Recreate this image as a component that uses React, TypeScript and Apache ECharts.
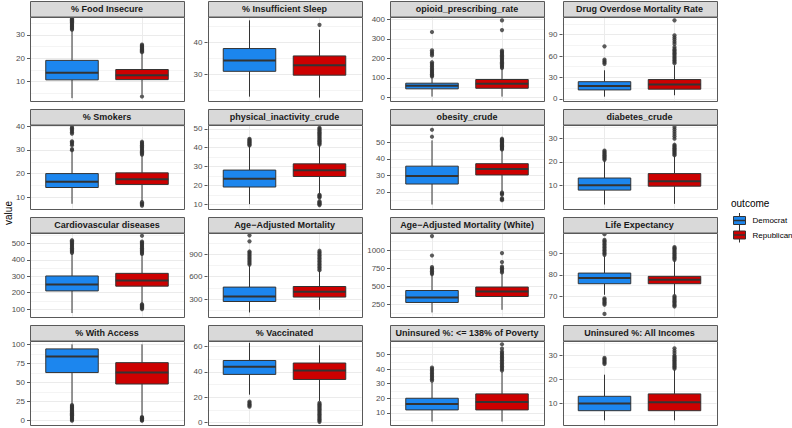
import React, { useEffect, useRef } from 'react';
import * as echarts from 'echarts';

const groups = ['Democrat', 'Republican'];
const groupColors = ['#1C86EE', '#CD0000'];

const panelTitles = [
  '% Food Insecure', '% Insufficient Sleep', 'opioid_prescribing_rate', 'Drug Overdose Mortality Rate',
  '% Smokers', 'physical_inactivity_crude', 'obesity_crude', 'diabetes_crude',
  'Cardiovascular diseases', 'Age\u2212Adjusted Mortality', 'Age\u2212Adjusted Mortality (White)', 'Life Expectancy',
  '% With Access', '% Vaccinated', 'Uninsured %: <= 138% of Poverty', 'Uninsured %: All Incomes',
];

const yLimits = [
  [2, 37.8], [21.9, 48.1], [-17, 415], [-2.35, 115.4],
  [5.2, 40.8], [7.7, 52.3], [10, 60.8], [0, 36.1],
  [55, 567], [68, 1188], [83, 1250], [60.8, 99.5],
  [-5, 105], [-1.6, 64.8], [2, 59.6], [1.25, 36.25],
];

const yTicks = [
  [10, 20, 30], [30, 40], [0, 100, 200, 300, 400], [0, 30, 60, 90],
  [10, 20, 30, 40], [10, 20, 30, 40, 50], [20, 30, 40, 50], [10, 20, 30],
  [100, 200, 300, 400, 500], [300, 600, 900], [250, 500, 750, 1000], [70, 80, 90],
  [0, 25, 50, 75, 100], [0, 20, 40, 60], [10, 20, 30, 40, 50], [10, 20, 30],
];

const yMinorTicks = [
  [5, 15, 25, 35], [25, 35, 45], [50, 150, 250, 350], [15, 45, 75, 105],
  [15, 25, 35], [15, 25, 35, 45], [15, 25, 35, 45, 55], [5, 15, 25, 35],
  [150, 250, 350, 450, 550], [150, 450, 750, 1050], [125, 375, 625, 875, 1125], [65, 75, 85, 95],
  [12.5, 37.5, 62.5, 87.5], [10, 30, 50], [5, 15, 25, 35, 45, 55], [5, 15, 25, 35],
];

// [lower whisker, Q1, median, Q3, upper whisker]
const demStats = [
  [3, 10.8, 13.8, 19.1, 31.8], [23.1, 31, 34.4, 38.1, 46.9], [3, 43, 59, 72, 104], [3, 12.5, 18, 24, 40],
  [7.2, 14.1, 16.5, 20, 29.5], [10, 19.1, 23.5, 28.1, 40.8], [12.4, 24.8, 29.6, 35.6, 51.2], [1.7, 7.9, 10, 13.1, 20.5],
  [76, 211, 250, 302, 438], [122, 268, 335, 460, 748], [139, 278, 347, 444, 662], [70.8, 75.9, 78.5, 80.8, 88.6],
  [22, 63, 84, 94, 100], [22, 38, 44, 49, 63], [4, 12, 16, 20, 31], [3, 7, 10, 13, 22],
];

const repStats = [
  [4.5, 10.9, 12.8, 15.2, 22.2], [22.8, 29.8, 32.9, 35.8, 44], [3, 46, 69, 91, 146], [5, 13.5, 20, 27, 47],
  [8.4, 15.4, 17.6, 20.3, 27.8], [15.5, 24.7, 28, 31.4, 41.2], [20.4, 30.3, 33.9, 37.1, 45.3], [2, 9.6, 11.7, 15, 22.5],
  [136, 240, 275, 318, 432], [157, 327, 397, 468, 678], [176, 361, 431, 492, 686], [70.8, 75.9, 77.7, 79.3, 86.5],
  [7, 48, 63, 76, 100], [17, 34, 41, 47, 61], [4, 12, 17.5, 23, 38], [3, 7, 10.5, 14, 24],
];

const demOutliers = [
  [32.2, 32.6, 33, 33.4, 33.8, 34.2, 34.6, 35, 35.4, 35.8, 36.2, 36.6, 37],
  [],
  [107, 112, 118, 124, 130, 136, 143, 150, 158, 165, 172, 180, 215, 224, 232, 241, 335],
  [49, 51, 53, 55, 73.6],
  [29.9, 30.4, 32, 32.6, 33.2, 33.7, 36.9, 37.5, 38.1, 38.7, 39.2, 39.7],
  [41.2, 41.7, 42.2, 42.7, 43.2, 43.7, 44.2, 44.7],
  [53.4, 57.6],
  [20.9, 21.4, 21.9, 22.4, 22.9, 23.4, 23.9, 24.4, 24.9],
  [443, 450, 457, 464, 471, 478, 485, 492, 499, 506, 513, 520],
  [760, 780, 800, 820, 840, 860, 880, 900, 920, 935, 1070, 1150],
  [672, 690, 710, 730, 750, 770, 930, 1200],
  [62, 66.2, 66.8, 67.4, 68, 68.6, 69.2, 89.2, 89.9, 90.6, 91.3, 92, 92.7, 93.4, 94.1, 94.8, 95.5, 96.1, 98.7],
  [0, 1.2, 2.4, 3.6, 4.8, 6, 7.2, 8.4, 9.6, 10.8, 12, 13.2, 14.4, 15.6, 16.8, 18, 19.2, 20.4],
  [12.5, 13.5, 14.5, 15.5, 16.5],
  [32, 33, 34, 35, 36, 37, 38, 39, 40, 41],
  [26.5, 27, 27.5, 28, 28.5, 29],
];

const repOutliers = [
  [3.7, 22.6, 23, 23.4, 23.8, 24.2, 24.6, 25, 25.4, 25.8],
  [45.5],
  [150, 156, 162, 168, 174, 180, 186, 192, 198, 204, 210, 216, 222, 228, 234, 240, 345, 395],
  [50, 52, 54, 56, 58, 60, 62, 64, 66, 68, 70, 72.6, 77, 80, 83, 86, 89, 110],
  [6.4, 6.9, 7.4, 7.9, 28, 28.5, 29, 29.5, 30, 30.5, 31, 31.5, 32, 32.5, 33, 33.5],
  [9.5, 10, 10.5, 11, 11.5, 13.5, 14, 14.5, 15, 41.6, 42.2, 42.8, 43.4, 44, 44.6, 45.2, 45.8, 46.4, 47, 47.6, 48.2, 48.8, 49.4, 50, 50.6],
  [15, 15.6, 16.2, 18.4, 19, 19.6, 45.7, 46.2, 46.7, 47.2, 47.7, 48.2, 48.7, 49.2, 49.7, 50.2, 50.7, 51.2, 51.7, 52.2],
  [22.9, 23.4, 23.9, 24.4, 24.9, 25.4, 25.9, 26.4, 26.9, 27.4, 30, 31, 32, 33, 34, 35],
  [100, 106, 112, 118, 124, 130, 436, 443, 450, 457, 464, 471, 478, 485, 492, 499, 506, 512, 547],
  [685, 705, 725, 745, 765, 785, 805, 825, 845, 865, 885, 905, 925, 945],
  [695, 715, 735, 755, 775, 839, 964],
  [65.4, 66, 66.6, 67.2, 67.8, 68.4, 69, 69.6, 70.2, 86.9, 87.5, 88.1, 88.7, 89.3, 89.9, 90.5, 91.1, 91.7, 92.3, 92.8],
  [0, 0.8, 1.6, 2.4, 3.2, 4, 4.8],
  [0.5, 1.5, 2.5, 3.5, 4.5, 5.5, 6.5, 7.5, 8.5, 9.5, 10.5, 11.5, 12.5, 13.5, 14.5, 15.5],
  [39, 40, 41, 42, 43, 44, 45, 46, 47, 48, 49, 50, 51, 52, 54, 57],
  [24.5, 25, 25.5, 26, 26.5, 27, 27.5, 28, 28.5, 29, 29.5, 30, 31, 32, 33],
];

const FONT = '"Liberation Sans", Arial, Helvetica, sans-serif';
const colLeft = [30, 207.5, 390, 562.5];
const rowStripTop = [1, 109, 217, 325];
const panelW = 154;
const stripH = 15.5;
const panelH = 84;
const FRAME = '#595959';

function buildOption(): any {
  const grid: any[] = [];
  const xAxis: any[] = [];
  const yAxis: any[] = [];
  const series: any[] = [];
  const graphic: any[] = [];

  panelTitles.forEach((title, i) => {
    const r = Math.floor(i / 4);
    const c = i % 4;
    const left = colLeft[c];
    const stripTop = rowStripTop[r];
    const top = stripTop + stripH;
    grid.push({ left, top, width: panelW, height: panelH, containLabel: false });
    xAxis.push({
      gridIndex: i, type: 'value', min: 0.4, max: 2.6,
      axisLine: { show: false },
      axisTick: { show: false, customValues: [1, 2] },
      axisLabel: { show: false },
      splitLine: { show: true, lineStyle: { color: '#EBEBEB', width: 1 } },
    });
    const [mn, mx] = yLimits[i];
    yAxis.push({
      gridIndex: i, type: 'value', min: mn, max: mx, position: 'left',
      axisLine: { show: false },
      axisTick: { show: true, length: 3, customValues: yTicks[i], lineStyle: { color: FRAME, width: 1 } },
      axisLabel: {
        show: true, customValues: yTicks[i], fontSize: 8, color: '#4D4D4D', margin: 5, fontFamily: FONT,
        formatter: (v: number) => String(v),
      },
      splitLine: { show: true, lineStyle: { color: '#EBEBEB', width: 1 } },
    });
    yAxis.push({
      gridIndex: i, type: 'value', min: mn, max: mx, position: 'left',
      axisLine: { show: false },
      axisTick: { show: false, customValues: yMinorTicks[i] },
      axisLabel: { show: false },
      splitLine: { show: true, lineStyle: { color: '#F4F4F4', width: 1 } },
    });

    const outData: any[] = [];
    demOutliers[i].forEach((v) => outData.push([1, v]));
    repOutliers[i].forEach((v) => outData.push([2, v]));
    series.push({
      type: 'scatter', xAxisIndex: i, yAxisIndex: 2 * i,
      data: outData, symbol: 'circle', symbolSize: 4.2,
      itemStyle: { color: '#333333' }, silent: true, z: 2,
    });

    series.push({
      type: 'custom', xAxisIndex: i, yAxisIndex: 2 * i, z: 3,
      encode: { x: 0, y: [1, 2, 3, 4, 5] },
      data: [[1, ...demStats[i]], [2, ...repStats[i]]],
      renderItem: (params: any, api: any) => {
        const x = api.value(0);
        const lo = api.coord([x, api.value(1)]);
        const q1 = api.coord([x, api.value(2)]);
        const md = api.coord([x, api.value(3)]);
        const q3 = api.coord([x, api.value(4)]);
        const hi = api.coord([x, api.value(5)]);
        const bw = api.size([0.75, 0])[0];
        const cx = lo[0];
        const color = groupColors[params.dataIndex];
        return {
          type: 'group',
          children: [
            { type: 'line', shape: { x1: cx, y1: hi[1], x2: cx, y2: q3[1] }, style: { stroke: '#333333', lineWidth: 1 } },
            { type: 'line', shape: { x1: cx, y1: q1[1], x2: cx, y2: lo[1] }, style: { stroke: '#333333', lineWidth: 1 } },
            { type: 'rect', shape: { x: cx - bw / 2, y: q3[1], width: bw, height: q1[1] - q3[1] }, style: { fill: color, stroke: '#333333', lineWidth: 1 } },
            { type: 'line', shape: { x1: cx - bw / 2, y1: md[1], x2: cx + bw / 2, y2: md[1] }, style: { stroke: '#333333', lineWidth: 2 } },
          ],
        };
      },
    });

    graphic.push({
      type: 'rect', z: 100,
      shape: { x: Math.round(left) + 0.5, y: Math.round(stripTop) + 0.5, width: panelW, height: stripH },
      style: { fill: '#D9D9D9', stroke: FRAME, lineWidth: 1 },
    });
    graphic.push({
      type: 'text', z: 101,
      x: left + panelW / 2, y: stripTop + stripH / 2 + 0.5,
      style: { text: title, fill: '#1A1A1A', font: `bold 9px ${FONT}`, textAlign: 'center', textVerticalAlign: 'middle' },
    });
    graphic.push({
      type: 'rect', z: 100,
      shape: { x: Math.round(left) + 0.5, y: Math.round(top) + 0.5, width: panelW, height: panelH },
      style: { fill: 'none', stroke: FRAME, lineWidth: 1 },
    });
  });

  // y axis title
  graphic.push({
    type: 'text', x: 8, y: 213, rotation: Math.PI / 2,
    style: { text: 'value', fill: '#000000', font: `10px ${FONT}`, textAlign: 'center', textVerticalAlign: 'middle' },
  });
  // legend
  graphic.push({
    type: 'text', x: 731, y: 203,
    style: { text: 'outcome', fill: '#000000', font: `10px ${FONT}`, textAlign: 'left', textVerticalAlign: 'middle' },
  });
  const keyY = [220.5, 235];
  groups.forEach((g, k) => {
    const cy = keyY[k];
    graphic.push({ type: 'line', shape: { x1: 739.5, y1: cy - 7.5, x2: 739.5, y2: cy + 7.5 }, style: { stroke: '#333333', lineWidth: 1 } });
    graphic.push({ type: 'rect', shape: { x: 733.5, y: cy - 4, width: 12, height: 8 }, style: { fill: groupColors[k], stroke: '#333333', lineWidth: 1 } });
    graphic.push({ type: 'line', shape: { x1: 733.5, y1: cy, x2: 745.5, y2: cy }, style: { stroke: '#333333', lineWidth: 1.5 } });
    graphic.push({
      type: 'text', x: 752.5, y: cy,
      style: { text: g, fill: '#000000', font: `8px ${FONT}`, textAlign: 'left', textVerticalAlign: 'middle' },
    });
  });

  return { animation: false, backgroundColor: '#FFFFFF', grid, xAxis, yAxis, series, graphic };
}

export default function App() {
  const ref = useRef<HTMLDivElement>(null);
  useEffect(() => {
    if (!ref.current) return;
    const chart = echarts.init(ref.current, undefined, { renderer: 'svg' });
    chart.setOption(buildOption());
    return () => chart.dispose();
  }, []);
  return <div ref={ref} style={{ position: 'absolute', left: 0, top: 0, width: 792, height: 428 }} />;
}
